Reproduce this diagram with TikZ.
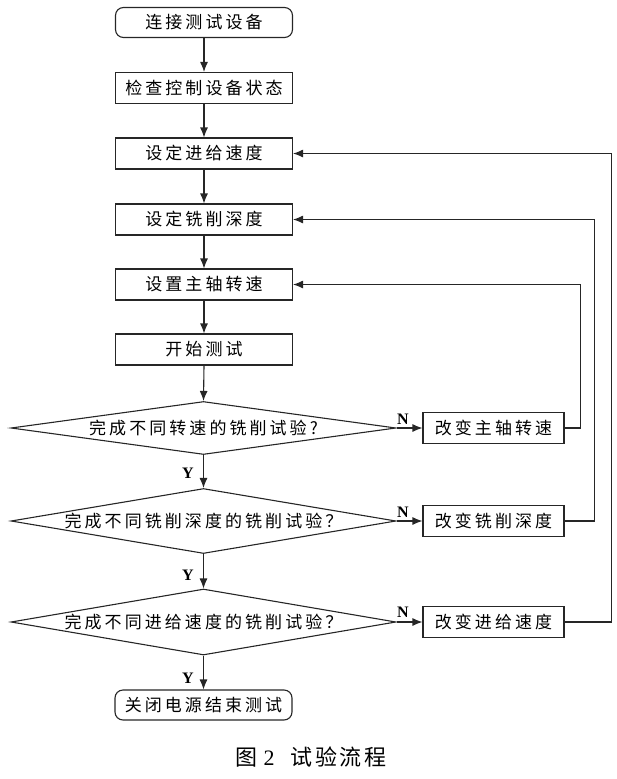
\documentclass[tikz,border=0pt]{standalone}
\usepackage{fontspec}
\setmainfont{Liberation Serif}
\newfontfamily\cjk{Noto Sans CJK SC}[LetterSpace=18]
\newfontfamily\cjkcap{Noto Sans CJK SC}[LetterSpace=12]
\usetikzlibrary{arrows.meta,shapes.geometric}

\begin{document}
\begin{tikzpicture}
	[x=1pt,y=1pt,
	proc/.style={draw=black!85,rectangle,line width=1.1pt,inner sep=0pt,
		minimum width=177pt,minimum height=31pt,font=\cjk\fontsize{17}{19}\selectfont},
	term/.style={proc,rounded corners=8pt,minimum height=30pt},
	side/.style={proc,minimum width=141pt},
	decis/.style={draw=black!85,diamond,line width=1.1pt,inner sep=0pt,
		minimum width=385pt,font=\cjk\fontsize{17}{19}\selectfont},
	yn/.style={inner sep=0pt,font=\bfseries\fontsize{16}{18}\selectfont},
	arr/.style={draw=black!85,line width=1.1pt,-{Latex[length=10pt,width=8pt]}}]
\useasboundingbox (0,0) rectangle (616,-779);
% columna principal
\node[term] (b1) at (204,-22.5) {连接测试设备};
\node[proc] (b2) at (204,-88) {检查控制设备状态};
\node[proc] (b3) at (204,-153.5) {设定进给速度};
\node[proc] (b4) at (204,-219.5) {设定铣削深度};
\node[proc] (b5) at (204,-284.5) {设置主轴转速};
\node[proc] (b6) at (204,-349.5) {开始测试};
\node[decis,minimum height=53pt] (d1) at (203.5,-428) {\makebox[0pt]{完成不同转速的铣削试验?}};
\node[decis,minimum height=65pt] (d2) at (203.5,-521) {\makebox[0pt]{完成不同铣削深度的铣削试验？}};
\node[decis,minimum height=66pt] (d3) at (203.5,-622) {\makebox[0pt]{完成不同进给速度的铣削试验？}};
\node[term] (b7) at (203.5,-705) {关闭电源结束测试};
% cajas laterales
\node[side] (s1) at (493.5,-428) {改变主轴转速};
\node[side] (s2) at (493.5,-521) {改变铣削深度};
\node[side] (s3) at (493.5,-622) {改变进给速度};
% flechas
\foreach \a/\b in {b1/b2,b2/b3,b3/b4,b4/b5,b5/b6}
	\draw[arr] (\a) -- (\b);
\draw[arr] (b6.south) -- (d1.north);
\draw[arr] (d1.south) -- (d2.north);
\draw[arr] (d2.south) -- (d3.north);
\draw[arr] (d3.south) -- (b7.north);
\foreach \d/\s in {d1/s1,d2/s2,d3/s3}
	\draw[arr] (\d.east) -- (\s.west);
\draw[arr] (s1.east) -- ++(16,0) |- (b5.east);
\draw[arr] (s2.east) -- ++(30,0) |- (b4.east);
\draw[arr] (s3.east) -- ++(47,0) |- (b3.east);
% etiquetas
\node[yn] (y1) at (188,-473) {Y};
\node[yn] (y2) at (188,-575) {Y};
\node[yn] (y3) at (188,-678) {Y};
\node[yn] (n1) at (403,-419) {N};
\node[yn] (n2) at (403,-512) {N};
\node[yn] (n3) at (403,-612) {N};
\node[font=\cjkcap\fontsize{22}{24}\selectfont] (cap) at (311,-757) {图\hspace{6pt}{\rmfamily 2}\hspace{16pt}试验流程};
\end{tikzpicture}
\end{document}
